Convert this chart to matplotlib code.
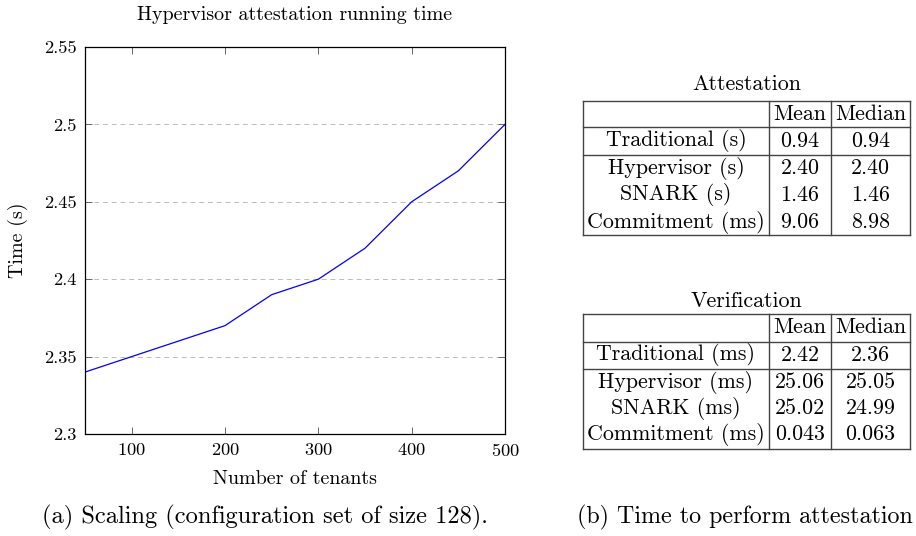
import matplotlib.pyplot as plt
from matplotlib.lines import Line2D

plt.rcParams['font.family'] = ['cmr10', 'DejaVu Serif']
plt.rcParams['mathtext.fontset'] = 'cm'
plt.rcParams['axes.formatter.use_mathtext'] = True

# data for the scaling plot
tenants = [50, 100, 200, 250, 300, 350, 400, 450, 500]
times = [2.34, 2.35, 2.37, 2.39, 2.40, 2.42, 2.45, 2.47, 2.50]
xticks = [100, 200, 300, 400, 500]
yticks = [2.3, 2.35, 2.4, 2.45, 2.5, 2.55]
ytick_labels = ['2.3', '2.35', '2.4', '2.45', '2.5', '2.55']

# data for the tables
row_names_att = ['Traditional (s)', 'Hypervisor (s)', 'SNARK (s)', 'Commitment (ms)']
mean_att = ['0.94', '2.40', '1.46', '9.06']
median_att = ['0.94', '2.40', '1.46', '8.98']
row_names_ver = ['Traditional (ms)', 'Hypervisor (ms)', 'SNARK (ms)', 'Commitment (ms)']
mean_ver = ['2.42', '25.06', '25.02', '0.043']
median_ver = ['2.36', '25.05', '24.99', '0.063']

W, H = 916, 536
fig = plt.figure(figsize=(W / 100, H / 100), dpi=100)


def fx(px):
    return px / W


def fy(py):
    return 1 - py / H


ax = fig.add_axes([fx(85), fy(434), fx(505) - fx(85), fy(47) - fy(434)])
ax.plot(tenants, times, color='blue', linewidth=0.9)
ax.set_xlim(50, 500)
ax.set_ylim(2.3, 2.55)
ax.set_xticks(xticks)
ax.set_yticks(yticks)
ax.set_yticklabels(ytick_labels)
ax.yaxis.grid(True, linestyle=(0, (5, 4)), color='#bbbbbb', linewidth=0.7)
ax.tick_params(direction='in', top=True, right=True, length=5, width=0.7,
               color='#666666', labelsize=13.3, pad=6)
for s in ax.spines.values():
    s.set_linewidth(0.9)

fig.text(fx(295), fy(15), 'Hypervisor attestation running time',
         ha='center', va='center', fontsize=14.4)
fig.text(fx(295), fy(479), 'Number of tenants',
         ha='center', va='center', fontsize=14.4)
fig.text(fx(18), fy(240), 'Time (s)', rotation=90,
         ha='center', va='center', fontsize=14.4)

fig.text(fx(265), fy(517), '(a) Scaling (configuration set of size 128).',
         ha='center', va='center', fontsize=17.6)
fig.text(fx(577), fy(517), '(b) Time to perform attestation',
         ha='left', va='center', fontsize=17.3)


def draw_table(title, title_y, top, head_bot, sep, bottom, row_ys, head_y,
               names, means, medians):
    cols = [583, 769, 831, 910]
    lc = '#444444'
    lw = 1.0
    fs = 15.8

    def hline(y):
        fig.add_artist(Line2D([fx(cols[0]), fx(cols[3])], [fy(y), fy(y)],
                              color=lc, linewidth=lw))

    def vline(x):
        fig.add_artist(Line2D([fx(x), fx(x)], [fy(top), fy(bottom)],
                              color=lc, linewidth=lw))

    for y in (top, head_bot, sep, bottom):
        hline(y)
    for x in cols:
        vline(x)
    fig.text(fx((cols[0] + cols[3]) / 2), fy(title_y), title,
             ha='center', va='center', fontsize=fs)
    fig.text(fx((cols[1] + cols[2]) / 2), fy(head_y), 'Mean',
             ha='center', va='center', fontsize=fs)
    fig.text(fx((cols[2] + cols[3]) / 2), fy(head_y), 'Median',
             ha='center', va='center', fontsize=fs)
    for y, n, m, md in zip(row_ys, names, means, medians):
        fig.text(fx((cols[0] + cols[1]) / 2), fy(y), n,
                 ha='center', va='center', fontsize=fs)
        fig.text(fx((cols[1] + cols[2]) / 2), fy(y), m,
                 ha='center', va='center', fontsize=fs)
        fig.text(fx((cols[2] + cols[3]) / 2), fy(y), md,
                 ha='center', va='center', fontsize=fs)


draw_table('Attestation', 84, 101, 127, 155, 235, [141, 168, 195, 222], 114,
           row_names_att, mean_att, median_att)
draw_table('Verification', 301, 314, 342, 369, 449, [355, 382, 408, 434], 327,
           row_names_ver, mean_ver, median_ver)

fig.savefig('out.png', dpi=100)
